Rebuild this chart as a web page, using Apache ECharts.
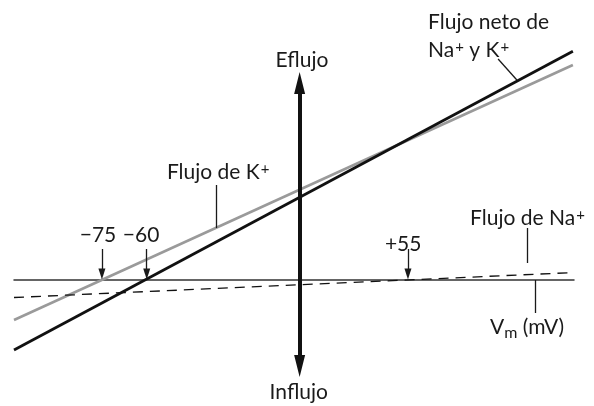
<!DOCTYPE html>
<html>
<head>
<meta charset="utf-8">
<script src="https://cdn.jsdelivr.net/npm/echarts@6/dist/echarts.min.js"></script>
<style>
  html, body { margin: 0; padding: 0; background: #ffffff; }
  #chart { width: 594px; height: 406px; }
</style>
</head>
<body>
<div id="chart"></div>
<script>
// Horizontal: schematic membrane-potential position (0 = flux axis).
// Vertical: ionic flux, arbitrary units (positive = efflux, negative = influx).
const xRange = [-102, 98];
const yRange = [-50, 100];

// Each flux line given by its two end points [position, flux]
const kFlux   = [[-102, -16], [97.6, 86]];
const netFlux = [[-102, -28], [97.6, 91.5]];
const naFlux  = [[-102, -7],  [98, 3]];

// Reversal potentials (mV) and where each flux crosses zero
const reversalLabels = ['−75', '−60', '+55'];
const reversalPos    = [-70.6, -54.6, 38.7];

// Text labels
const fluxAxisLabels = ['Eflujo', 'Influjo'];
const kLabel   = 'Flujo de K{sup|+}';
const netLabel = 'Flujo neto de\nNa{sup|+} y K{sup|+}';
const naLabel  = 'Flujo de Na{sup|+}';
const vmLabel  = 'V{sub|m} (mV)';

const FONT = 'Lato, "Open Sans", sans-serif';
const TEXT_COLOR = '#1a1a1a';
const baseText = { fontFamily: FONT, fontSize: 21, color: TEXT_COLOR, lineHeight: 28 };
const rich = {
  sup: { fontFamily: FONT, fontSize: 15, color: TEXT_COLOR, verticalAlign: 'top', lineHeight: 28, padding: [4, 0, 0, 1] },
  sub: { fontFamily: FONT, fontSize: 16, color: TEXT_COLOR, verticalAlign: 'bottom', lineHeight: 18 }
};

function textPoint(coord, text, align) {
  return {
    coord: coord,
    symbol: 'circle',
    symbolSize: 0,
    label: Object.assign({ show: true, position: 'inside', formatter: text, align: align || 'center', rich: rich }, baseText)
  };
}

// Reversal-potential arrows pointing down at the zero-flux line
const reversalArrows = reversalPos.map(function (p) {
  return [
    { coord: [p, 12.4], symbol: 'none' },
    { coord: [p, 2.4], symbol: 'triangle', symbolSize: [7, 11] }
  ];
});

// Thin leader lines from text to curves
const leaderStyle = { color: '#1a1a1a', width: 1.3, type: 'solid' };
const leaders = [
  [{ coord: [-29.9, 38] }, { coord: [-29.9, 20.8] }],
  [{ coord: [70.9, 88.4] }, { coord: [77.6, 80] }],
  [{ coord: [81.2, 20.8] }, { coord: [81.2, 6.8] }],
  [{ coord: [84, 0] },     { coord: [84, -13.2] }]
];

const option = {
  animation: false,
  backgroundColor: '#ffffff',
  grid: { left: 14, right: 20, top: 30, bottom: 1 },
  xAxis: {
    type: 'value', min: xRange[0], max: xRange[1],
    axisLine: { show: true, onZero: true, lineStyle: { color: '#333333', width: 1.5 } },
    axisTick: { show: false }, axisLabel: { show: false }, splitLine: { show: false }
  },
  yAxis: {
    type: 'value', min: yRange[0], max: yRange[1],
    axisLine: { show: false }, axisTick: { show: false }, axisLabel: { show: false }, splitLine: { show: false }
  },
  series: [
    {
      name: 'K', type: 'line', data: kFlux, symbol: 'none', clip: false,
      lineStyle: { color: '#9a9a9a', width: 2.6 }, z: 2
    },
    {
      name: 'Neto', type: 'line', data: netFlux, symbol: 'none', clip: false,
      lineStyle: { color: '#111111', width: 2.8 }, z: 3
    },
    {
      name: 'Na', type: 'line', data: naFlux, symbol: 'none', clip: false,
      lineStyle: { color: '#111111', width: 1.3, type: [10, 7] }, z: 2
    },
    {
      name: 'anotaciones', type: 'line', data: [], silent: true, z: 5,
      markLine: {
        silent: true, animation: false,
        label: { show: false },
        emphasis: { disabled: true },
        symbol: ['none', 'none'],
        data: [
          // Efflux / influx double arrow on the flux axis
          [
            { coord: [0, 78.8], symbol: 'triangle', symbolSize: [11, 22], lineStyle: { color: '#111111', width: 4, type: 'solid' } },
            { coord: [0, -34.4], symbol: 'triangle', symbolSize: [11, 22] }
          ]
        ].concat(reversalArrows.map(function (a) {
          a[0].lineStyle = { color: '#1a1a1a', width: 1.3, type: 'solid' };
          return a;
        })).concat(leaders.map(function (l) {
          l[0].lineStyle = leaderStyle;
          return l;
        }))
      },
      markPoint: {
        silent: true, animation: false,
        data: [
          textPoint([0.85, 88], fluxAxisLabels[0]),
          textPoint([-0.3, -44.8], fluxAxisLabels[1]),
          textPoint([-72, 18], reversalLabels[0]),
          textPoint([-56.6, 18], reversalLabels[1]),
          textPoint([37, 14.4], reversalLabels[2]),
          textPoint([-47.4, 43.2], kLabel, 'left'),
          textPoint([45.9, 97.6], netLabel, 'left'),
          textPoint([60.9, 24.8], naLabel, 'left'),
          textPoint([68, -18.8], vmLabel, 'left')
        ]
      }
    }
  ]
};

echarts.init(document.getElementById('chart'), null, { renderer: 'canvas' }).setOption(option);
</script>
</body>
</html>
